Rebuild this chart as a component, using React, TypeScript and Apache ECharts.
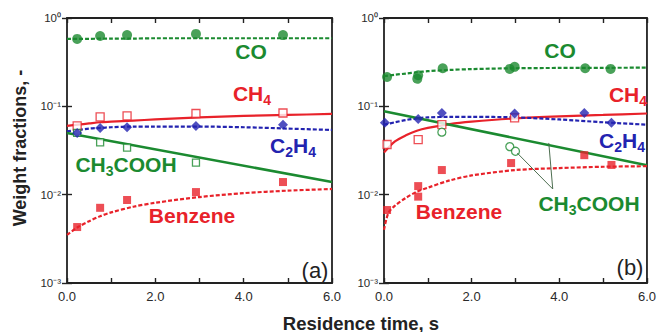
import React, { useEffect, useRef } from "react";
import * as echarts from "echarts";

// ---------- data ----------
const fitX = [0, 0.25, 0.5, 0.75, 1, 1.5, 2, 3, 4, 5, 6];

// Panel (a)
const aX = [0.23, 0.75, 1.36, 2.92, 4.89];
const aCO = [0.58, 0.625, 0.64, 0.66, 0.64];
const aCH4 = [0.06, 0.076, 0.078, 0.083, 0.084];
const aC2H4 = [0.05, 0.057, 0.058, 0.06, 0.062];
const aAcidX = [0.23, 0.75, 1.36, 2.92];
const aAcid = [0.05, 0.039, 0.034, 0.023];
const aBenz = [0.0043, 0.0071, 0.0087, 0.0107, 0.0139];

const aCOfit = [0.58, 0.58, 0.58, 0.585, 0.585, 0.585, 0.59, 0.59, 0.59, 0.59, 0.59];
const aCH4fit = [0.06, 0.062, 0.064, 0.066, 0.067, 0.069, 0.071, 0.075, 0.078, 0.08, 0.082];
const aC2H4fit = [0.052, 0.054, 0.056, 0.057, 0.058, 0.059, 0.059, 0.059, 0.058, 0.056, 0.054];
const aAcidFitX = [0, 6];
const aAcidFit = [0.05, 0.0139];
const aBenzFit = [0.0035, 0.0043, 0.005, 0.0057, 0.0063, 0.0073, 0.0081, 0.0094, 0.0104, 0.0111, 0.0116];

// Panel (b)
const bCOx = [0.07, 0.76, 0.78, 1.34, 2.87, 2.98, 4.59, 5.17];
const bCO = [0.215, 0.205, 0.225, 0.27, 0.265, 0.28, 0.27, 0.265];
const bCH4x = [0.07, 0.78, 1.32, 2.98];
const bCH4 = [0.037, 0.042, 0.062, 0.074];
const bC2H4x = [0.02, 0.78, 1.32, 2.98, 4.57, 5.19];
const bC2H4 = [0.065, 0.072, 0.084, 0.083, 0.084, 0.065];
const bAcidX = [1.32, 2.87, 3.0];
const bAcid = [0.051, 0.035, 0.031];
const bBenzX = [0.07, 0.78, 0.78, 1.32, 2.9, 4.57, 5.19];
const bBenz = [0.0067, 0.0125, 0.0095, 0.019, 0.0228, 0.028, 0.0217];

const bCOfit = [0.22, 0.228, 0.235, 0.243, 0.25, 0.258, 0.264, 0.27, 0.272, 0.273, 0.274];
const bCH4fit = [0.03, 0.04, 0.047, 0.053, 0.057, 0.063, 0.067, 0.073, 0.077, 0.08, 0.083];
const bC2H4fit = [0.062, 0.066, 0.07, 0.073, 0.075, 0.076, 0.076, 0.075, 0.071, 0.066, 0.062];
const bAcidFitX = [0, 6];
const bAcidFit = [0.088, 0.0215];
const bBenzFitX = [0, 0.1, 0.25, 0.5, 0.75, 1, 1.5, 2, 3, 4, 5, 6];
const bBenzFit = [0.004, 0.0062, 0.0075, 0.0092, 0.0108, 0.012, 0.0145, 0.0165, 0.019, 0.02, 0.0207, 0.021];

// annotation pointer for CH3COOH in (b): [from, to] in data coords
const bPointerFrom = [3.85, 0.0116];
const bPointerTo = [[3.04, 0.0296], [3.76, 0.0385]];

const xTickLabels = ["0.0", "2.0", "4.0", "6.0"];
const yTickLabels = ["10\u207B\u00B3", "10\u207B\u00B2", "10\u207B\u00B9", "10\u2070"];

// ---------- styles ----------
const GREEN = "#1b8a30";
const RED = "#e8222a";
const BLUE = "#2323b0";
const FONT = "Liberation Sans, Arial, sans-serif";

const pts = (xs: number[], ys: number[]) => xs.map((x, i) => [x, ys[i]]);

const mkX = (g: number, pos: "bottom" | "top", labels: boolean) => ({
  type: "value",
  gridIndex: g,
  position: pos,
  min: 0,
  max: 6,
  interval: 1,
  axisLine: { show: false },
  splitLine: { show: false },
  axisTick: { show: true, inside: true, length: 5, lineStyle: { color: "#222", width: 1.4 } },
  axisLabel: labels
    ? {
        show: true,
        margin: 7,
        fontSize: 13,
        fontFamily: FONT,
        color: "#2a2a2a",
        formatter: (v: number) => (Math.round(v) % 2 === 0 ? xTickLabels[Math.round(v) / 2] : ""),
      }
    : { show: false },
});

const mkY = (g: number, pos: "left" | "right", labels: boolean) => ({
  type: "log",
  logBase: 10,
  gridIndex: g,
  position: pos,
  min: 0.001,
  max: 1,
  axisLine: { show: false },
  splitLine: { show: false },
  minorTick: { show: false },
  axisTick: { show: true, inside: true, length: 5, lineStyle: { color: "#222", width: 1.4 } },
  axisLabel: labels
    ? {
        show: true,
        margin: 6,
        fontSize: 11.5,
        fontFamily: FONT,
        color: "#2a2a2a",
        formatter: (v: number) => yTickLabels[Math.round(Math.log10(v)) + 3] ?? "",
      }
    : { show: false },
});

const lineS = (g: number, xs: number[], ys: number[], color: string, dashed: boolean, width = 2.2) => ({
  type: "line",
  xAxisIndex: g,
  yAxisIndex: g,
  data: pts(xs, ys),
  symbol: "none",
  showSymbol: false,
  smooth: 0.3,
  lineStyle: { color, width, type: dashed ? [4, 2] : "solid" },
  z: 2,
  silent: true,
});

const scat = (g: number, xs: number[], ys: number[], symbol: string, size: number, color: string, open = false) => ({
  type: "scatter",
  xAxisIndex: g,
  yAxisIndex: g,
  data: pts(xs, ys),
  symbol,
  symbolSize: size,
  itemStyle: open ? { color: "#fff", borderColor: color, borderWidth: 1.3 } : { color },
  z: 3,
  silent: true,
});

const rich = (color: string) => ({
  m: { fontSize: 21, fontWeight: "bold", fontFamily: FONT, fill: color, lineHeight: 24, verticalAlign: "top" },
  s: { fontSize: 14, fontWeight: "bold", fontFamily: FONT, fill: color, lineHeight: 13, verticalAlign: "bottom" },
});

const label = (x: number, y: number, text: string, color: string) => ({
  type: "text",
  x,
  y,
  silent: true,
  style: { text, rich: rich(color), align: "center", verticalAlign: "middle" },
});

export default function App() {
  const ref = useRef<HTMLDivElement>(null);

  useEffect(() => {
    if (!ref.current) return;
    const chart = echarts.init(ref.current, undefined, { renderer: "svg" });

    const option: any = {
      animation: false,
      backgroundColor: "#fff",
      grid: [
        { left: 67, top: 18, width: 265, height: 265, show: true, borderColor: "#222", borderWidth: 1.8, backgroundColor: "transparent" },
        { left: 384, top: 18, width: 268, height: 265, show: true, borderColor: "#222", borderWidth: 1.8, backgroundColor: "transparent" },
      ],
      xAxis: [mkX(0, "bottom", true), mkX(1, "bottom", true), mkX(0, "top", false), mkX(1, "top", false)],
      yAxis: [mkY(0, "left", true), mkY(1, "left", true), mkY(0, "right", false), mkY(1, "right", false)],
      series: [
        // panel (a) fits
        lineS(0, fitX, aCOfit, GREEN, true),
        lineS(0, fitX, aCH4fit, RED, false),
        lineS(0, fitX, aC2H4fit, BLUE, true),
        lineS(0, aAcidFitX, aAcidFit, GREEN, false, 2.6),
        lineS(0, fitX, aBenzFit, RED, true),
        // panel (a) points
        scat(0, aX, aCO, "circle", 10, GREEN),
        scat(0, aX, aCH4, "rect", 8, RED, true),
        scat(0, aAcidX, aAcid, "rect", 7, GREEN, true),
        scat(0, aX, aC2H4, "diamond", 10, BLUE),
        scat(0, aX, aBenz, "rect", 8, RED),
        // panel (b) fits
        lineS(1, fitX, bCOfit, GREEN, true),
        lineS(1, fitX, bCH4fit, RED, false),
        lineS(1, fitX, bC2H4fit, BLUE, true),
        lineS(1, bAcidFitX, bAcidFit, GREEN, false, 2.6),
        lineS(1, bBenzFitX, bBenzFit, RED, true),
        // panel (b) points
        scat(1, bCOx, bCO, "circle", 10, GREEN),
        scat(1, bCH4x, bCH4, "rect", 8, RED, true),
        {
          ...scat(1, bAcidX, bAcid, "circle", 8, GREEN, true),
          markLine: {
            silent: true,
            symbol: ["none", "none"],
            label: { show: false },
            lineStyle: { color: "#4d6e50", width: 1, type: "solid" },
            data: bPointerTo.map((to) => [{ coord: bPointerFrom }, { coord: to }]),
          },
        },
        scat(1, bC2H4x, bC2H4, "diamond", 10, BLUE),
        scat(1, bBenzX, bBenz, "rect", 8, RED),
      ],
      graphic: [
        label(251, 53, "{m|CO}", GREEN),
        label(252, 95, "{m|CH}{s|4}", RED),
        label(293, 147, "{m|C}{s|2}{m|H}{s|4}", BLUE),
        label(126, 166, "{m|CH}{s|3}{m|COOH}", GREEN),
        label(192, 217, "{m|Benzene}", RED),
        { type: "text", x: 315, y: 270, silent: true, style: { text: "(a)", font: `22px ${FONT}`, fill: "#222", align: "center", verticalAlign: "middle" } },
        label(560, 52, "{m|CO}", GREEN),
        label(628, 96, "{m|CH}{s|4}", RED),
        label(622, 142, "{m|C}{s|2}{m|H}{s|4}", BLUE),
        label(459, 213, "{m|Benzene}", RED),
        label(589, 205, "{m|CH}{s|3}{m|COOH}", GREEN),
        { type: "text", x: 630, y: 267, silent: true, style: { text: "(b)", font: `22px ${FONT}`, fill: "#222", align: "center", verticalAlign: "middle" } },
        { type: "text", x: 361, y: 323, silent: true, style: { text: "Residence time, s", font: `bold 18.5px ${FONT}`, fill: "#222", align: "center", verticalAlign: "middle" } },
        { type: "text", x: 20, y: 148, rotation: Math.PI / 2, silent: true, style: { text: "Weight fractions, -", font: `bold 18px ${FONT}`, fill: "#222", align: "center", verticalAlign: "middle" } },
      ],
    };

    chart.setOption(option);
    return () => chart.dispose();
  }, []);

  return (
    <div
      ref={ref}
      style={{ position: "fixed", left: 0, top: 0, width: 659, height: 332, background: "#fff" }}
    />
  );
}
